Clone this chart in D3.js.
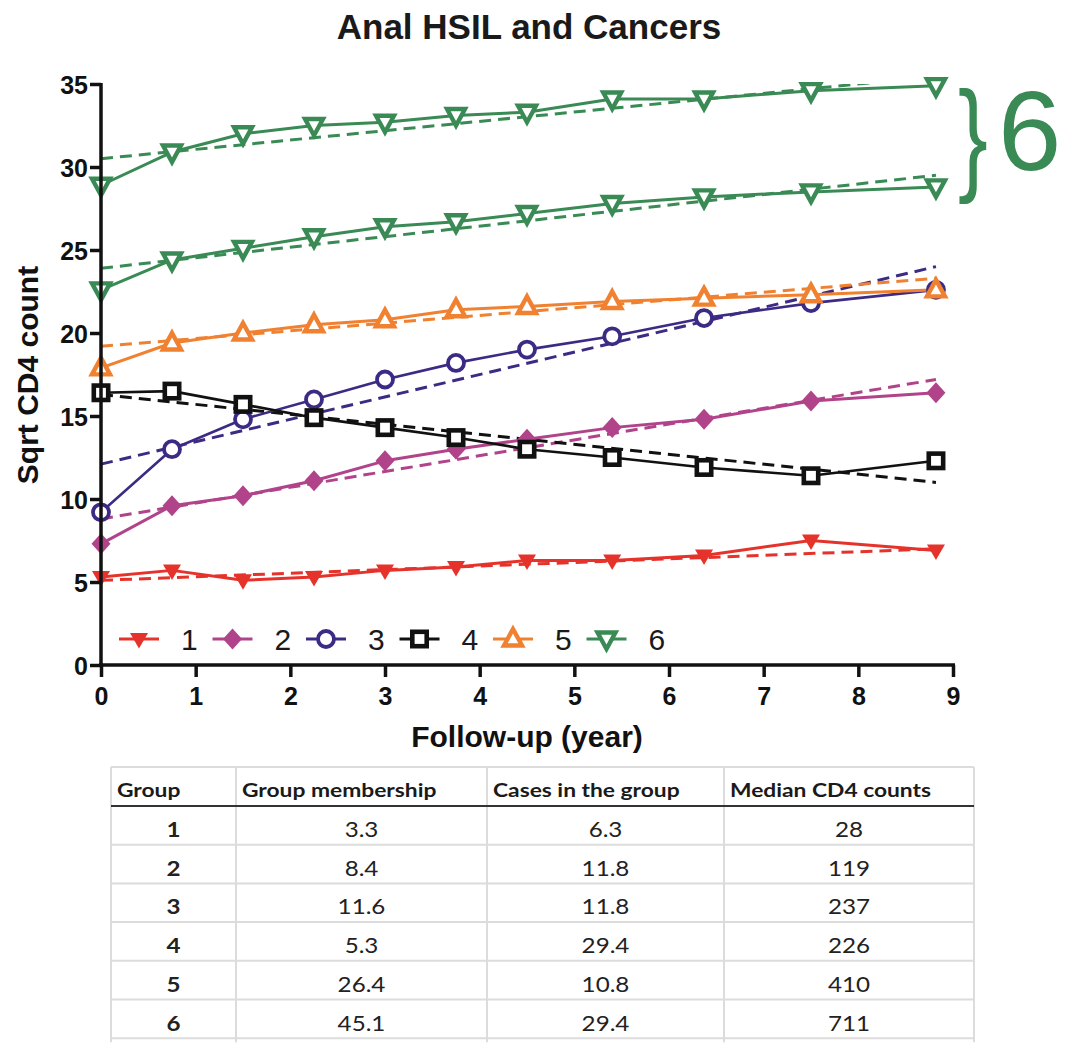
<!DOCTYPE html>
<html>
<head>
<meta charset="utf-8">
<script src="https://cdn.jsdelivr.net/npm/d3@7"></script>
<style>
  html, body { margin: 0; padding: 0; background: #fff; }
  svg { display: block; }
</style>
</head>
<body>
<div id="chart"></div>
<script>
// Follow-up times (years) at which CD4 was measured
const years = [0, 0.75, 1.5, 2.25, 3, 3.75, 4.5, 5.4, 6.37, 7.5, 8.82];

// Mean sqrt CD4 trajectories per group
const g1 = [5.3, 5.7, 5.1, 5.3, 5.7, 5.9, 6.3, 6.3, 6.6, 7.5, 6.9];
const g2 = [7.3, 9.6, 10.2, 11.1, 12.3, 13.0, 13.6, 14.3, 14.8, 15.9, 16.4];
const g3 = [9.2, 13.0, 14.8, 16.0, 17.2, 18.2, 19.0, 19.8, 20.9, 21.8, 22.6];
const g4 = [16.4, 16.5, 15.7, 14.9, 14.3, 13.7, 13.0, 12.5, 11.9, 11.4, 12.3];
const g5 = [17.9, 19.4, 20.0, 20.5, 20.8, 21.4, 21.6, 21.9, 22.1, 22.3, 22.6];
const g6a = [28.9, 30.9, 32.0, 32.5, 32.7, 33.1, 33.3, 34.1, 34.1, 34.6, 34.9];
const g6b = [22.6, 24.4, 25.1, 25.8, 26.4, 26.7, 27.2, 27.8, 28.2, 28.5, 28.8];

// Fitted linear trends: value at first and last follow-up time
const fit1 = [5.1, 7.0];
const fit2 = [8.8, 17.2];
const fit3 = [12.1, 24.0];
const fit4 = [16.3, 11.0];
const fit5 = [19.2, 23.3];
const fit6a = [30.5, 35.46];
const fit6b = [23.9, 29.5];

const xTicks = [0, 1, 2, 3, 4, 5, 6, 7, 8, 9];
const yTicks = [0, 5, 10, 15, 20, 25, 30, 35];
const legendLabels = ["1", "2", "3", "4", "5", "6"];

// Summary table
const tableHeaders = ["Group", "Group membership", "Cases in the group", "Median CD4 counts"];
const groupIds = ["1", "2", "3", "4", "5", "6"];
const membership = ["3.3", "8.4", "11.6", "5.3", "26.4", "45.1"];
const cases = ["6.3", "11.8", "11.8", "29.4", "10.8", "29.4"];
const medianCD4 = ["28", "119", "237", "226", "410", "711"];

const colors = {
  g1: "#e5332c", g2: "#b1438b", g3: "#3c2a85", g4: "#111111",
  g5: "#f08130", g6: "#3a8a55"
};

const series = [
  { key: "g1", values: g1, fit: fit1, color: colors.g1, symbol: "triDownFill", lw: 3 },
  { key: "g2", values: g2, fit: fit2, color: colors.g2, symbol: "diamond", lw: 3 },
  { key: "g3", values: g3, fit: fit3, color: colors.g3, symbol: "circle", lw: 2.6 },
  { key: "g4", values: g4, fit: fit4, color: colors.g4, symbol: "square", lw: 2.6 },
  { key: "g5", values: g5, fit: fit5, color: colors.g5, symbol: "triUp", lw: 3 },
  { key: "g6b", values: g6b, fit: fit6b, color: colors.g6, symbol: "triDown", lw: 3 },
  { key: "g6a", values: g6a, fit: fit6a, color: colors.g6, symbol: "triDown", lw: 3 }
];
const legendSymbols = ["triDownFill", "diamond", "circle", "square", "triUp", "triDown"];
const legendColors = [colors.g1, colors.g2, colors.g3, colors.g4, colors.g5, colors.g6];

const W = 1070, H = 1046;
const plot = { left: 101, right: 953, top: 84, bottom: 665 };

const svg = d3.select("#chart").append("svg")
  .attr("width", W).attr("height", H)
  .attr("viewBox", `0 0 ${W} ${H}`);

const x = d3.scaleLinear().domain([0, 9]).range([plot.left, plot.right]);
const y = d3.scaleLinear().domain([0, 35]).range([plot.bottom, plot.top]);

const defs = svg.append("defs");
defs.append("clipPath").attr("id", "plot-clip")
  .append("rect")
  .attr("x", plot.left - 20).attr("y", plot.top)
  .attr("width", plot.right - plot.left + 40)
  .attr("height", plot.bottom - plot.top);

// Marker drawing
function drawMarker(g, type, color) {
  switch (type) {
    case "triDownFill":
      g.append("path").attr("d", "M-9,-6 L9,-6 L0,9.5 Z")
        .attr("fill", color).attr("stroke", "none");
      break;
    case "diamond":
      g.append("path").attr("d", "M0,-10.5 L9.5,0 L0,10.5 L-9.5,0 Z")
        .attr("fill", color).attr("stroke", "none");
      break;
    case "circle":
      g.append("circle").attr("r", 8)
        .attr("fill", "#fff").attr("stroke", color).attr("stroke-width", 3.8);
      break;
    case "square":
      g.append("rect").attr("x", -7.2).attr("y", -7.2).attr("width", 14.4).attr("height", 14.4)
        .attr("fill", "#fff").attr("stroke", color).attr("stroke-width", 4.6);
      break;
    case "triUp":
      g.append("path").attr("d", "M0,-10 L9,6.5 L-9,6.5 Z")
        .attr("fill", "#fff").attr("stroke", color).attr("stroke-width", 4.4)
        .attr("stroke-linejoin", "miter");
      break;
    case "triDown":
      g.append("path").attr("d", "M-9,-6.5 L9,-6.5 L0,10 Z")
        .attr("fill", "#fff").attr("stroke", color).attr("stroke-width", 4.4)
        .attr("stroke-linejoin", "miter");
      break;
  }
}

// Title
svg.append("text")
  .attr("x", 529).attr("y", 39)
  .attr("text-anchor", "middle")
  .attr("font-family", "Liberation Sans, Arial, sans-serif")
  .attr("font-weight", "bold").attr("font-size", 35)
  .attr("fill", "#1a1a1a")
  .text("Anal HSIL and Cancers");

// Data layer
const data = svg.append("g").attr("clip-path", "url(#plot-clip)");
const line = d3.line().x(d => x(d[0])).y(d => y(d[1]));

series.forEach(s => {
  const t0 = years[0], t1 = years[years.length - 1];
  data.append("path")
    .attr("d", line([[t0, s.fit[0]], [t1, s.fit[1]]]))
    .attr("fill", "none").attr("stroke", s.color)
    .attr("stroke-width", 3).attr("stroke-dasharray", "12,7");
});

series.forEach(s => {
  const pts = years.map((t, i) => [t, s.values[i]]);
  data.append("path")
    .attr("d", line(pts))
    .attr("fill", "none").attr("stroke", s.color)
    .attr("stroke-width", s.lw).attr("stroke-linejoin", "round");
  pts.forEach(p => {
    const mg = svg.append("g").attr("transform", `translate(${x(p[0])},${y(p[1])})`);
    drawMarker(mg, s.symbol, s.color);
  });
});

// Axes
const axisFont = "Liberation Sans, Arial, sans-serif";
const xAxis = svg.append("g")
  .attr("transform", `translate(0,${plot.bottom})`)
  .call(d3.axisBottom(x).tickValues(xTicks).tickSize(12).tickPadding(10).tickFormat(d3.format("d")));
const yAxis = svg.append("g")
  .attr("transform", `translate(${plot.left},0)`)
  .call(d3.axisLeft(y).tickValues(yTicks).tickSize(11).tickPadding(2).tickFormat(d3.format("d")));

[xAxis, yAxis].forEach(a => {
  a.select(".domain").attr("stroke", "#111").attr("stroke-width", 3.5);
  a.selectAll(".tick line").attr("stroke", "#111").attr("stroke-width", 3.5);
  a.selectAll(".tick text")
    .attr("font-family", axisFont).attr("font-weight", "bold")
    .attr("font-size", 25).attr("fill", "#111");
});
// extend the domain paths to cover the full stroke without outer ticks
xAxis.select(".domain").attr("d", `M${plot.left - 2},0H${plot.right + 2}`);
yAxis.select(".domain").attr("d", `M0,${plot.top - 1}V${plot.bottom + 2}`);
xAxis.selectAll(".tick text").attr("dy", "0.71em");
yAxis.selectAll(".tick text").attr("dy", "0.36em");

// Axis titles
svg.append("text")
  .attr("x", 527).attr("y", 747)
  .attr("text-anchor", "middle")
  .attr("font-family", axisFont).attr("font-weight", "bold").attr("font-size", 30)
  .attr("fill", "#111")
  .text("Follow-up (year)");

svg.append("text")
  .attr("transform", "translate(38,375) rotate(-90)")
  .attr("text-anchor", "middle")
  .attr("font-family", axisFont).attr("font-weight", "bold").attr("font-size", 30)
  .attr("fill", "#111")
  .text("Sqrt CD4 count");

// Legend
const legend = svg.append("g").attr("transform", "translate(119,639)");
legendLabels.forEach((lab, i) => {
  const item = legend.append("g").attr("transform", `translate(${i * 93.5},0)`);
  item.append("line").attr("x1", 0).attr("x2", 40).attr("y1", 0).attr("y2", 0)
    .attr("stroke", legendColors[i]).attr("stroke-width", 3);
  const mg = item.append("g").attr("transform", "translate(20,0)");
  drawMarker(mg, legendSymbols[i], legendColors[i]);
  item.append("text")
    .attr("x", 62).attr("y", 11)
    .attr("font-family", axisFont).attr("font-size", 30).attr("fill", "#1a1a1a")
    .text(lab);
});

// Group 6 bracket label
const brace = svg.append("g").attr("fill", colors.g6);
brace.append("text")
  .attr("transform", "translate(958,178) scale(0.72,1)")
  .attr("font-family", axisFont).attr("font-size", 124)
  .text("}");
brace.append("text")
  .attr("x", 998).attr("y", 170)
  .attr("font-family", axisFont).attr("font-size", 114)
  .text("6");

// Summary table
const table = { left: 111, top: 767, headerBottom: 806, rowH: 38.7 };
const colEdges = [111, 236, 487, 724, 974];
const tFont = "Lato, 'Open Sans', sans-serif";
const tg = svg.append("g");
const nRows = groupIds.length;
const tableBottom = table.headerBottom + nRows * table.rowH;

// grid lines
tg.append("line").attr("x1", colEdges[0]).attr("x2", colEdges[4])
  .attr("y1", table.top).attr("y2", table.top)
  .attr("stroke", "#dcdcdc").attr("stroke-width", 2);
d3.range(1, nRows + 1).forEach(r => {
  const yy = table.headerBottom + r * table.rowH;
  tg.append("line").attr("x1", colEdges[0]).attr("x2", colEdges[4])
    .attr("y1", yy).attr("y2", yy)
    .attr("stroke", "#dcdcdc").attr("stroke-width", 2);
});
colEdges.forEach(cx => {
  tg.append("line").attr("x1", cx).attr("x2", cx)
    .attr("y1", table.top).attr("y2", tableBottom + 4)
    .attr("stroke", "#dcdcdc").attr("stroke-width", 2);
});
tg.append("line").attr("x1", colEdges[0]).attr("x2", colEdges[4])
  .attr("y1", table.headerBottom).attr("y2", table.headerBottom)
  .attr("stroke", "#333").attr("stroke-width", 2);

// header
const headerSX = 1.2, bodySX = 1.18;
tableHeaders.forEach((h, i) => {
  tg.append("text")
    .attr("transform", `translate(${colEdges[i] + 6},${table.top + 30}) scale(${headerSX},1)`)
    .attr("font-family", tFont).attr("font-weight", "bold").attr("font-size", 19)
    .attr("fill", "#1a1a1a")
    .text(h);
});

// body
const columns = [groupIds, membership, cases, medianCD4];
groupIds.forEach((gid, r) => {
  const base = table.headerBottom + r * table.rowH + 31;
  columns.forEach((col, c) => {
    const cx = (colEdges[c] + colEdges[c + 1]) / 2;
    tg.append("text")
      .attr("transform", `translate(${cx},${base}) scale(${bodySX},1)`)
      .attr("text-anchor", "middle")
      .attr("font-family", tFont).attr("font-weight", c === 0 ? "bold" : "normal")
      .attr("font-size", 20.5).attr("fill", "#222")
      .text(col[r]);
  });
});
</script>
</body>
</html>
